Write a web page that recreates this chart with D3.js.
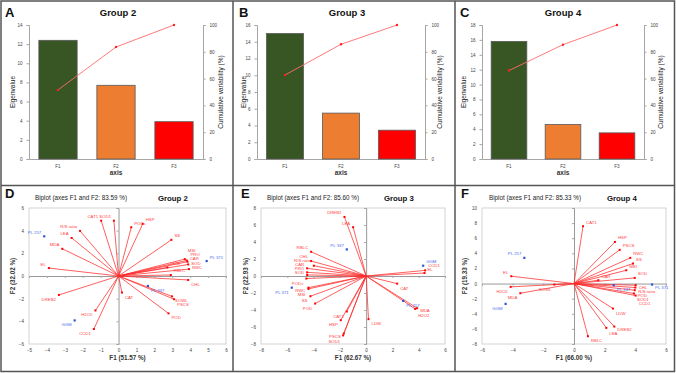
<!DOCTYPE html>
<html>
<head>
<meta charset="utf-8">
<script src="https://cdn.jsdelivr.net/npm/d3@7"></script>
<style>
  body { margin: 0; background: #fff; }
  svg { font-family: "Liberation Sans", Arial, sans-serif; display: block; }
</style>
</head>
<body>
<div id="chart"></div>
<script>
// ---- scree plots (eigenvalue bars + cumulative line) ----
const axesF = ['F1', 'F2', 'F3'];
const eigen2 = [12.40, 7.70, 3.90];
const cumul2 = [51.57, 83.59, 100];
const eigen3 = [14.98, 5.48, 3.44];
const cumul3 = [62.67, 85.60, 100];
const eigen4 = [15.80, 4.63, 3.51];
const cumul4 = [66.00, 85.33, 100];
const barColors = ['#375623', '#ed7d31', '#ff0000'];

// ---- biplots: variables (red vectors) and observations (blue points) ----
const vars2 = ['CAT1', 'SOD1', 'PODs', 'HSP', 'SS', 'R/S ratio', 'LEA', 'MDA', 'EL', 'DREB2', 'H2O2', 'CCD1',
  'CAT', 'POD', 'SOWL', 'PSCS', 'MSI', 'CAR', 'PRO', 'SOD', 'RWC', 'LDW', 'RBLC', 'CHL'];
const vx2 = [-0.97, -0.26, 0.71, 1.35, 2.95, -2.15, -2.62, -3.14, -3.89, -3.33, -1.29, -1.38,
  0.19, 2.79, 2.99, 3.10, 3.70, 3.81, 3.85, 3.89, 3.93, 2.73, 2.92, 3.89];
const vy2 = [4.88, 4.88, 4.30, 4.60, 3.19, 3.98, 3.36, 2.40, 0.70, -1.67, -3.04, -4.68,
  -1.46, -3.30, -1.80, -2.05, 1.49, 1.37, 1.26, 1.02, 0.61, 0.76, 0.09, -0.35];
const obs2 = ['PL 257', 'PL 371', 'PL 337', 'GGM'];
const ox2 = [-4.15, 4.92, 1.64, -2.45];
const oy2 = [3.50, 1.32, -0.88, -3.92];

const vars3 = ['DREB2', 'LEA', 'RBLC', 'CHL', 'R/S ratio', 'CAR', 'PRO', 'SOD', 'PODs', 'RWC', 'MSI', 'SS',
  'POD', 'CAT1', 'HSP', 'PSCS', 'SOD1', 'LDW', 'CAT', 'EL', 'CCD1', 'H2O2', 'MDA'];
const vx3 = [-1.65, -0.99, -4.19, -4.19, -3.98, -4.49, -4.49, -4.49, -4.55, -4.39, -4.39, -4.24,
  -3.88, -1.47, -1.93, -1.70, -1.75, 0.18, 2.36, 4.44, 4.49, 3.73, 3.88];
const vy3 = [6.95, 5.74, 2.85, 1.76, 1.21, 0.90, 0.43, 0.12, -0.30, -1.37, -1.52, -2.38,
  -3.24, -4.18, -5.20, -6.76, -6.99, -5.08, -0.90, 0.35, 0.66, -3.87, -3.79];
const obs3 = ['PL 337', 'GGM', 'PL 371', 'PL 257'];
const ox3 = [-1.47, 4.34, -5.66, 2.82];
const oy3 = [3.13, 1.21, -1.37, -2.93];

const vars4 = ['CAT1', 'HSP', 'PSCS', 'RWC', 'SS', 'MSI', 'SOD', 'CAR', 'CHL', 'R/S ratio', 'POD', 'SOD1',
  'CCD1', 'LDW', 'LEA', 'DREB2', 'RBLC', 'EL', 'H2O2', 'MDA', 'SOWL'];
const vx4 = [0.59, 2.67, 2.98, 3.67, 3.85, 3.41, 3.96, 1.59, 4.02, 4.00, 3.96, 3.91,
  4.02, 2.54, 2.11, 2.63, 0.91, -4.09, -4.13, -3.50, -1.28];
const vy4 = [7.59, 5.51, 4.46, 3.40, 2.65, 1.76, 0.75, 0.44, -0.22, -0.53, -0.88, -1.32,
  -1.59, -3.31, -5.87, -5.69, -6.97, 0.97, -0.44, -1.28, -0.13];
const obs4 = ['PL 257', 'GGM', 'PL 371', 'PL 337'];
const ox4 = [-3.24, -4.46, 5.09, 2.59];
const oy4 = [3.40, -2.69, -0.13, -0.22];

const W = 676, H = 373;
const svg = d3.select('#chart').append('svg')
  .attr('width', W).attr('height', H);

// panel frames
svg.append('rect').attr('x', 1).attr('y', 1).attr('width', W - 2.5).attr('height', H - 2.5)
  .attr('fill', 'none').attr('stroke', '#555').attr('stroke-width', 1.5);
svg.append('line').attr('x1', 1).attr('x2', W - 1).attr('y1', 185.5).attr('y2', 185.5)
  .attr('stroke', '#555').attr('stroke-width', 1.5);
[233, 455].forEach(px => svg.append('line').attr('x1', px).attr('x2', px)
  .attr('y1', 1).attr('y2', H - 1).attr('stroke', '#555').attr('stroke-width', 1.5));

function styleAxis(g) {
  g.select('.domain').attr('stroke', '#a6a6a6');
  g.selectAll('.tick line').attr('stroke', '#a6a6a6');
  g.selectAll('.tick text').attr('font-size', 4.6).attr('fill', '#444').attr('font-family', null);
}

function barPanel(p, eig, cum) {
  const top = 25, bottom = 159;
  const x = d3.scaleBand().domain(axesF).range([p.left, p.right]);
  const y = d3.scaleLinear().domain([0, p.yMax]).range([bottom, top]);
  const yc = d3.scaleLinear().domain([0, 100]).range([bottom, top]);
  const g = svg.append('g');

  g.append('g').attr('transform', `translate(${p.left},0)`)
    .call(d3.axisLeft(y).ticks(p.yMax / 2).tickSize(2.5).tickPadding(4))
    .call(styleAxis);
  g.append('g').attr('transform', `translate(${p.right},0)`)
    .call(d3.axisRight(yc).ticks(5).tickSize(2.5).tickPadding(4))
    .call(styleAxis);
  g.append('g').attr('transform', `translate(0,${bottom})`)
    .call(d3.axisBottom(x).tickSize(0).tickPadding(6))
    .call(styleAxis);

  const bw = x.bandwidth();
  g.selectAll('rect.bar').data(eig).join('rect')
    .attr('class', 'bar')
    .attr('x', (d, i) => x(axesF[i]) + bw * 0.17)
    .attr('width', bw * 0.66)
    .attr('y', d => y(d))
    .attr('height', d => y(0) - y(d))
    .attr('fill', (d, i) => barColors[i])
    .attr('stroke', '#595959').attr('stroke-width', 0.8);

  const line = d3.line().x((d, i) => x(axesF[i]) + bw / 2).y(d => yc(d));
  g.append('path').datum(cum).attr('d', line)
    .attr('fill', 'none').attr('stroke', '#ff6b6b').attr('stroke-width', 0.9);
  g.selectAll('circle').data(cum).join('circle')
    .attr('cx', (d, i) => x(axesF[i]) + bw / 2).attr('cy', d => yc(d))
    .attr('r', 1.2).attr('fill', '#ff2020');

  g.append('text').attr('x', (p.left + p.right) / 2).attr('y', 175)
    .attr('text-anchor', 'middle').attr('font-size', 6.5).attr('font-weight', 'bold')
    .attr('fill', '#333').text('axis');
  g.append('text').attr('transform', `translate(${p.eigX},${(top + bottom) / 2}) rotate(-90)`)
    .attr('text-anchor', 'middle').attr('font-size', 6.5).attr('fill', '#222').text('Eigenvalue');
  g.append('text').attr('transform', `translate(${p.cumX},${(top + bottom) / 2}) rotate(-90)`)
    .attr('text-anchor', 'middle').attr('font-size', 6.5).attr('fill', '#222')
    .text('Cumulative variability (%)');
  g.append('text').attr('x', p.titleX).attr('y', 16).attr('text-anchor', 'middle')
    .attr('font-size', 9.5).attr('font-weight', 'bold').attr('fill', '#111').text(p.title);
  g.append('text').attr('x', p.letterX).attr('y', 17)
    .attr('font-size', 13).attr('font-weight', 'bold').attr('fill', '#111').text(p.letter);
}

// push point labels apart vertically so they do not sit on top of each other
function spreadLabels(sel) {
  const items = [];
  sel.each(function () {
    const b = this.getBBox();
    items.push({ node: this, x0: b.x, x1: b.x + b.width, y: +this.getAttribute('y'), h: b.height * 0.82 });
  });
  for (let it = 0; it < 60; it++) {
    let moved = false;
    for (let i = 0; i < items.length; i++) {
      for (let j = i + 1; j < items.length; j++) {
        const a = items[i], b = items[j];
        if (a.x1 < b.x0 || b.x1 < a.x0) continue;
        const gap = Math.abs(a.y - b.y), need = (a.h + b.h) / 2;
        if (gap < need) {
          const push = (need - gap) / 2 + 0.05;
          if (a.y <= b.y) { a.y -= push; b.y += push; } else { a.y += push; b.y -= push; }
          moved = true;
        }
      }
    }
    if (!moved) break;
  }
  items.forEach(d => d.node.setAttribute('y', d.y));
}

function biplot(p, names, vx, vy, obs, ox, oy) {
  const top = 208, bottom = 344;
  const x = d3.scaleLinear().domain(p.xDom).range([p.left, p.right]);
  const y = d3.scaleLinear().domain(p.yDom).range([bottom, top]);
  const g = svg.append('g');

  g.append('rect').attr('x', p.left).attr('y', top)
    .attr('width', p.right - p.left).attr('height', bottom - top)
    .attr('fill', 'none').attr('stroke', '#c8c8c8').attr('stroke-width', 0.8);

  // tick labels along the frame
  const xt = d3.range(p.xDom[0], p.xDom[1] + 0.01, p.xStep);
  const yt = d3.range(p.yDom[0], p.yDom[1] + 0.01, 2);
  g.append('g').attr('transform', `translate(0,${bottom})`)
    .call(d3.axisBottom(x).tickValues(xt).tickSize(0).tickPadding(5))
    .call(styleAxis).call(a => a.select('.domain').remove());
  g.append('g').attr('transform', `translate(${p.left},0)`)
    .call(d3.axisLeft(y).tickValues(yt).tickSize(0).tickPadding(5))
    .call(styleAxis).call(a => a.select('.domain').remove());

  // zero axes with crossing ticks
  g.append('g').attr('transform', `translate(0,${y(0)})`)
    .call(d3.axisBottom(x).tickValues(xt).tickSize(2).tickFormat(''))
    .call(styleAxis).call(a => a.select('.domain').attr('stroke', '#999').attr('stroke-width', 1));
  g.append('g').attr('transform', `translate(${x(0)},0)`)
    .call(d3.axisLeft(y).tickValues(yt).tickSize(2).tickFormat(''))
    .call(styleAxis).call(a => a.select('.domain').attr('stroke', '#999').attr('stroke-width', 1));

  // variable vectors
  const vg = g.append('g');
  const lg = g.append('g');
  names.forEach((n, i) => {
    vg.append('line').attr('x1', x(0)).attr('y1', y(0)).attr('x2', x(vx[i])).attr('y2', y(vy[i]))
      .attr('stroke', '#ff2a2a').attr('stroke-width', 0.75);
    vg.append('rect').attr('x', x(vx[i]) - 1).attr('y', y(vy[i]) - 1)
      .attr('width', 2).attr('height', 2).attr('fill', '#ff0000');
    lg.append('text').attr('class', 'lab').attr('x', x(vx[i]) + (vx[i] >= 0 ? 3 : -3))
      .attr('y', y(vy[i]) + (vy[i] >= 0 ? -2.5 : 6))
      .attr('text-anchor', vx[i] >= 0 ? 'start' : 'end')
      .attr('font-size', 4.3).attr('fill', '#ff4040').text(n);
  });

  // observations
  obs.forEach((n, i) => {
    vg.append('rect').attr('x', x(ox[i]) - 1.1).attr('y', y(oy[i]) - 1.1)
      .attr('width', 2.2).attr('height', 2.2).attr('fill', '#2f55d4');
    lg.append('text').attr('class', 'lab').attr('x', x(ox[i]) + (ox[i] >= 0 ? 3 : -3))
      .attr('y', y(oy[i]) + (oy[i] >= 0 ? -2.5 : 6))
      .attr('text-anchor', ox[i] >= 0 ? 'start' : 'end')
      .attr('font-size', 4.3).attr('fill', '#4a6cf0').text(n);
  });
  spreadLabels(lg.selectAll('text.lab'));

  g.append('text').attr('x', p.titleX).attr('y', 200)
    .attr('font-size', 6.3).attr('fill', '#222').text(p.title);
  g.append('text').attr('x', p.groupX).attr('y', 201)
    .attr('font-size', 7.8).attr('font-weight', 'bold').attr('fill', '#111').text(p.group);
  g.append('text').attr('x', p.letterX).attr('y', 198)
    .attr('font-size', 13).attr('font-weight', 'bold').attr('fill', '#111').text(p.letter);
  g.append('text').attr('x', (p.left + p.right) / 2).attr('y', 360).attr('text-anchor', 'middle')
    .attr('font-size', 6.3).attr('font-weight', 'bold').attr('fill', '#333').text(p.xLabel);
  g.append('text').attr('transform', `translate(${p.yLabelX},${(top + bottom) / 2}) rotate(-90)`)
    .attr('text-anchor', 'middle').attr('font-size', 6.3).attr('font-weight', 'bold')
    .attr('fill', '#333').text(p.yLabel);
}

barPanel({ left: 29, right: 203, yMax: 14, eigX: 15, cumX: 223, titleX: 118, letterX: 5,
  title: 'Group 2', letter: 'A' }, eigen2, cumul2);
barPanel({ left: 257, right: 425, yMax: 16, eigX: 246, cumX: 442, titleX: 347, letterX: 239,
  title: 'Group 3', letter: 'B' }, eigen3, cumul3);
barPanel({ left: 482, right: 644, yMax: 18, eigX: 466, cumX: 663, titleX: 563, letterX: 460,
  title: 'Group 4', letter: 'C' }, eigen4, cumul4);

biplot({ left: 29, right: 226, xDom: [-5, 6], yDom: [-6, 6], xStep: 1,
  title: 'Biplot (axes F1 and F2: 83.59 %)', group: 'Group 2', letter: 'D',
  titleX: 35, groupX: 158, letterX: 5, yLabelX: 15,
  xLabel: 'F1 (51.57 %)', yLabel: 'F2 (32.02 %)' }, vars2, vx2, vy2, obs2, ox2, oy2);
biplot({ left: 261, right: 445, xDom: [-8, 6], yDom: [-8, 8], xStep: 2,
  title: 'Biplot (axes F1 and F2: 85.60 %)', group: 'Group 3', letter: 'E',
  titleX: 267, groupX: 384, letterX: 241, yLabelX: 248,
  xLabel: 'F1 (62.67 %)', yLabel: 'F2 (22.93 %)' }, vars3, vx3, vy3, obs3, ox3, oy3);
biplot({ left: 482, right: 666, xDom: [-6, 6], yDom: [-8, 10], xStep: 2,
  title: 'Biplot (axes F1 and F2: 85.33 %)', group: 'Group 4', letter: 'F',
  titleX: 489, groupX: 607, letterX: 461, yLabelX: 467,
  xLabel: 'F1 (66.00 %)', yLabel: 'F2 (19.33 %)' }, vars4, vx4, vy4, obs4, ox4, oy4);
</script>
</body>
</html>
